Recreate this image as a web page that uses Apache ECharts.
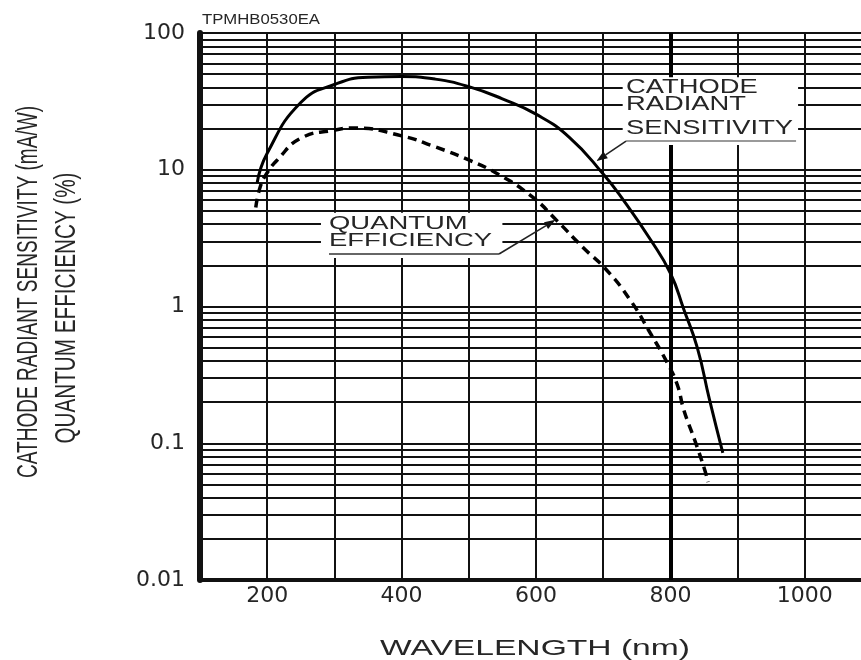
<!DOCTYPE html>
<html>
<head>
<meta charset="utf-8">
<script src="https://cdn.jsdelivr.net/npm/echarts@6/dist/echarts.min.js"></script>
<style>
html, body { margin: 0; padding: 0; background: #fff; }
#chart { width: 861px; height: 660px; }
</style>
</head>
<body>
<div id="chart"></div>
<script>
// Cathode radiant sensitivity (mA/W) vs wavelength (nm)
const wavelengthSens = [185, 200, 250, 300, 350, 400, 450, 500, 550, 600, 650, 700, 730, 770, 800, 820, 840, 858, 878];
const cathodeSens    = [8.0, 13.2, 31, 42, 47.5, 48, 46, 40.5, 33, 25.5, 17.2, 9.3, 6.0, 3.1, 1.75, 0.95, 0.5, 0.21, 0.085];

// Quantum efficiency (%) vs wavelength (nm)
const wavelengthQE = [183, 190, 200, 215, 250, 300, 330, 400, 450, 500, 545, 595, 630, 670, 705, 740, 770, 795, 810, 820, 836, 851, 856];
const quantumEff   = [5.3, 7.6, 9.5, 11.8, 17, 19.5, 20.2, 17.7, 14.7, 11.8, 9.2, 6.3, 4.3, 2.7, 1.85, 1.12, 0.64, 0.39, 0.27, 0.175, 0.106, 0.064, 0.052];

// Axis ticks and labels
const xTickValues = [200, 400, 600, 800, 1000];
const xTickLabels = ['200', '400', '600', '800', '1000'];
const yTickLabels = ['0.01', '0.1', '1', '10', '100'];

// Texts
const chartCode = 'TPMHB0530EA';
const xTitle = 'WAVELENGTH (nm)';
const yTitleLines = ['CATHODE RADIANT SENSITIVITY (mA/W)', 'QUANTUM EFFICIENCY (%)'];
const sensNote = ['CATHODE', 'RADIANT', 'SENSITIVITY'];
const qeNote = ['QUANTUM', 'EFFICIENCY'];

// Minor log grid lines: 2..9 within each decade
const minorY = [];
[0.01, 0.1, 1, 10].forEach(d => {
  for (let m = 2; m <= 9; m++) minorY.push(+(m * d).toPrecision(3));
});

const INK = '#111';
const TEXT = '#262626';
const chart = echarts.init(document.getElementById('chart'), null, { renderer: 'canvas' });

chart.setOption({
  animation: false,
  backgroundColor: '#fff',
  grid: { left: 200, right: -11, top: 33, bottom: 80, containLabel: false, outerBoundsMode: 'none' },
  xAxis: {
    type: 'value', min: 100, max: 1100, interval: 100,
    axisLine: { show: true, onZero: false, lineStyle: { color: INK, width: 4 } },
    axisTick: { show: false },
    axisLabel: {
      margin: 5, color: TEXT, fontFamily: 'DejaVu Sans', fontSize: 22,
      formatter: v => { const i = xTickValues.indexOf(v); return i < 0 ? '' : xTickLabels[i]; }
    },
    splitLine: { show: true, lineStyle: { color: INK, width: 2 } }
  },
  yAxis: {
    type: 'log', logBase: 10, min: 0.01, max: 100,
    axisLine: { show: true, lineStyle: { color: INK, width: 6 } },
    axisTick: { show: false },
    axisLabel: {
      margin: 15, color: TEXT, fontFamily: 'DejaVu Sans', fontSize: 22,
      formatter: v => yTickLabels[Math.round(Math.log10(v)) + 2] || ''
    },
    splitLine: { show: true, lineStyle: { color: INK, width: 2 } }
  },
  series: [
    {
      // carrier for the minor log grid and the heavy 800 nm line
      type: 'line', data: [], silent: true, z: 1,
      markLine: {
        silent: true, symbol: 'none', z: 1, animation: false,
        label: { show: false },
        lineStyle: { type: 'solid', color: INK, width: 2 },
        emphasis: { disabled: true },
        data: minorY.map(v => ({ yAxis: v })).concat([{ xAxis: 800, lineStyle: { width: 4, color: '#000' } }])
      }
    },
    {
      name: 'Cathode radiant sensitivity', type: 'line', z: 5,
      data: wavelengthSens.map((w, i) => [w, cathodeSens[i]]),
      smooth: 0.5, showSymbol: false, silent: true,
      lineStyle: { color: '#000', width: 3 }
    },
    {
      name: 'Quantum efficiency', type: 'line', z: 5,
      data: wavelengthQE.map((w, i) => [w, quantumEff[i]]),
      smooth: 0.5, showSymbol: false, silent: true,
      lineStyle: { color: '#000', width: 3.5, type: [9, 6] }
    }
  ]
});

// ---- annotations and titles ----
const px = (x, y) => chart.convertToPixel({ gridIndex: 0 }, [x, y]);
const ctx = document.createElement('canvas').getContext('2d');
function fit(text, font, width) { ctx.font = font; return width / ctx.measureText(text).width; }

const graphic = [];
function whiteBox(a, b) {
  const p = px(a[0], a[1]), q = px(b[0], b[1]);
  graphic.push({ type: 'rect', z: 3, silent: true,
    shape: { x: p[0], y: p[1], width: q[0] - p[0], height: q[1] - p[1] },
    style: { fill: '#fff' } });
}
function textAt(x, y, str, font, sx) {
  graphic.push({ type: 'text', z: 10, silent: true, x: x, y: y, scaleX: sx,
    style: { text: str, font: font, fill: TEXT, textAlign: 'left', textVerticalAlign: 'middle', verticalAlign: 'middle' } });
}
function seg(a, b, color, w) {
  graphic.push({ type: 'line', z: 10, silent: true,
    shape: { x1: a[0], y1: a[1], x2: b[0], y2: b[1] }, style: { stroke: color, lineWidth: w } });
}
function arrow(from, tip) {
  const dx = tip[0] - from[0], dy = tip[1] - from[1];
  const len = Math.hypot(dx, dy), ux = dx / len, uy = dy / len;
  const L = 11, W = 4;
  const bx = tip[0] - ux * L, by = tip[1] - uy * L;
  seg(from, [bx, by], '#222', 1.6);
  graphic.push({ type: 'polygon', z: 10, silent: true,
    shape: { points: [tip, [bx - uy * W, by + ux * W], [bx + uy * W, by - ux * W]] },
    style: { fill: '#111' } });
}

// Sensitivity callout
{
  const font = '20px "Liberation Sans", Arial, sans-serif';
  const sx = fit(sensNote[2], font, 167);
  whiteBox([729, 47.5], [990, 15.2]);
  const rows = [40, 30, 20];
  sensNote.forEach((t, i) => { const p = px(734, rows[i]); textAt(p[0], p[1], t, font, sx); });
  const u0 = px(734, 16.2), u1 = px(987, 16.2);
  seg(u0, u1, '#9a9a9a', 2);
  arrow(u0, px(690, 11.6));
}

// Quantum efficiency callout
{
  const font = '18px "Liberation Sans", Arial, sans-serif';
  const sx = fit(qeNote[1], font, 163);
  whiteBox([280, 4.85], [550, 2.26]);
  const rows = [4, 3];
  qeNote.forEach((t, i) => { const p = px(292, rows[i]); textAt(p[0], p[1], t, font, sx); });
  const u0 = px(292, 2.42), u1 = px(545, 2.42);
  seg(u0, u1, '#333', 1.5);
  arrow(u1, px(629, 4.3));
}

// Chart code above the plot
{
  const font = '14px "Liberation Sans", Arial, sans-serif';
  const corner = px(100, 100);
  textAt(corner[0] + 2, corner[1] - 13, chartCode, font, fit(chartCode, font, 118));
}

// Axis titles
{
  const font = '22px "Liberation Sans", Arial, sans-serif';
  graphic.push({ type: 'text', z: 10, silent: true, x: 535, y: 649, scaleX: fit(xTitle, font, 310),
    style: { text: xTitle, font: font, fill: TEXT, textAlign: 'center', textVerticalAlign: 'middle', verticalAlign: 'middle' } });
  const yfont = '30px "Liberation Sans", Arial, sans-serif';
  const pos = [[29, 292, 372], [67, 308, 271]];
  yTitleLines.forEach((t, i) => {
    graphic.push({ type: 'text', z: 10, silent: true, x: pos[i][0], y: pos[i][1], rotation: Math.PI / 2,
      scaleX: fit(t, yfont, pos[i][2]),
      style: { text: t, font: yfont, fill: TEXT, textAlign: 'center', textVerticalAlign: 'middle', verticalAlign: 'middle' } });
  });
}

chart.setOption({ graphic: graphic });
</script>
</body>
</html>
